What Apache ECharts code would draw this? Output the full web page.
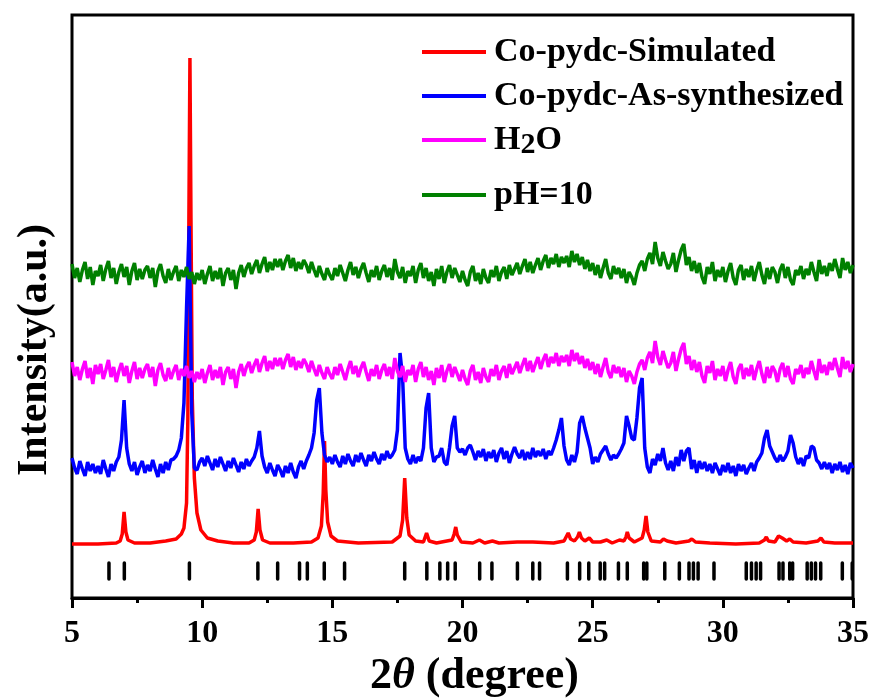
<!DOCTYPE html>
<html>
<head>
<meta charset="utf-8">
<script src="https://cdn.jsdelivr.net/npm/echarts@6/dist/echarts.min.js"></script>
<style>html,body{margin:0;padding:0;background:#fff}#chart{width:876px;height:698px}</style>
</head>
<body>
<div id="chart"></div>
<script>
// ---- data ----
const xTicks = [5, 10, 15, 20, 25, 30, 35];
const seriesNames = ['Co-pydc-Simulated', 'Co-pydc-As-synthesized', 'H2O', 'pH=10'];

// simulated pattern (angle, intensity)
const redAngles = [5.0,6.0,6.7,6.85,6.93,7.0,7.07,7.15,7.4,8.0,8.6,9.0,9.2,9.3,9.4,9.45,9.49,9.53,9.57,9.62,9.7,9.8,9.95,10.2,10.6,11.2,11.8,12.0,12.08,12.15,12.22,12.32,12.6,13.5,14.2,14.45,14.58,14.65,14.7,14.75,14.82,14.95,15.2,16.0,17.3,17.6,17.7,17.78,17.86,17.95,18.2,18.5,18.62,18.72,19.0,19.6,19.68,19.74,19.8,19.95,20.4,20.65,20.85,21.15,21.4,22.1,22.7,23.5,23.9,24.0,24.06,24.15,24.3,24.42,24.49,24.57,24.7,24.87,25.0,25.3,25.54,25.75,26.03,26.2,26.28,26.33,26.4,26.6,26.9,26.98,27.05,27.12,27.25,27.6,27.72,27.78,27.86,28.2,28.7,28.81,28.95,29.5,30.5,31.4,31.6,31.67,31.75,32.0,32.14,32.2,32.28,32.45,32.57,32.7,33.2,33.65,33.77,33.88,34.3,35.0];
const redIntensity = [54,54,55,57,64,86,66,58,55,55,57,59,64,70,95,180,380,540,380,200,120,85,68,60,57,55,55,58,66,89,68,58,55,55,56,60,72,105,157,108,76,62,57,55,56,62,78,120,80,63,57,56,65,57,55,58,64,71,63,56,55,58,55,57,55,56,56,55,57,62,65,59,57,61,66,60,57,60,56,56,58,55,58,57,61,66,60,56,60,68,82,66,57,56,59,61,57,55,57,59,56,55,54,55,58,61,57,56,62,64,60,57,59,56,55,57,60,56,55,55];

// measured patterns, 5.0 to 35.0 deg in 0.1 deg steps
const scanStart = 5.0, scanStep = 0.1;
const blueIntensity = [
140,130,124,137,129,122,136,127,134,125,
132,124,138,129,121,134,127,136,141,158,
198,150,134,127,136,123,131,137,125,133,
127,138,129,121,134,125,136,128,138,139,
142,148,160,195,290,372,185,130,128,136,
140,132,142,135,128,139,131,141,134,127,
137,130,140,133,126,136,129,139,132,137,
141,150,167,142,131,125,135,128,122,133,
128,121,132,125,135,126,120,131,137,129,
137,143,150,165,198,210,165,143,136,141,
134,143,136,131,142,134,144,137,132,143,
136,145,138,132,143,137,146,139,134,144,
138,147,140,143,148,168,245,220,150,139,
134,143,135,141,137,150,190,205,150,136,
141,142,150,136,133,150,172,182,150,146,
149,143,150,153,146,138,147,141,149,137,
146,140,148,136,145,150,139,147,135,144,
151,144,140,148,138,146,139,150,141,147,
142,149,139,147,143,150,158,168,180,152,
138,133,143,136,146,175,182,170,160,150,
134,141,136,144,148,152,144,138,143,140,
144,149,155,182,172,160,158,180,210,220,
150,131,125,139,133,144,137,150,135,128,
137,127,141,132,148,137,147,150,129,138,
125,137,129,136,127,134,125,135,129,123,
133,126,135,125,132,122,134,127,133,124,
130,135,127,136,140,145,160,168,152,146,
140,136,143,137,141,147,163,155,141,134,
140,132,142,140,152,150,138,135,129,136,
129,135,125,134,128,136,126,133,124,135,
130];
const magentaIntensity = [
236,222,231,218,229,237,220,230,214,233,
224,234,219,228,238,221,231,216,227,235,
222,232,215,227,236,219,230,220,229,234,
221,231,212,228,235,223,217,230,219,227,
233,218,229,222,232,220,227,216,226,219,
229,215,225,233,218,228,220,231,213,226,
231,219,229,210,226,234,222,231,236,225,
233,239,226,235,242,227,237,229,240,232,
240,229,238,244,231,241,228,237,230,239,
234,226,237,229,222,233,225,219,231,224,
219,231,223,234,226,218,229,237,224,232,
221,230,236,226,217,229,222,233,219,228,
234,222,231,219,240,227,221,232,216,228,
223,233,216,229,236,221,231,218,227,213,
230,220,233,216,227,234,221,231,224,217,
228,219,213,227,233,218,226,215,230,221,
216,229,222,233,218,227,232,220,234,224,
230,236,225,233,240,227,237,226,234,241,
229,238,244,231,241,235,245,232,242,236,
243,232,248,237,245,234,242,230,239,228,
236,224,234,221,231,240,226,220,233,225,
231,221,230,216,227,222,214,226,234,238,
228,240,246,235,257,241,233,247,238,230,
235,246,227,239,249,255,234,242,228,238,
226,236,222,215,232,225,237,218,229,222,
232,217,228,236,221,214,229,234,219,230,
222,233,218,229,237,224,215,231,220,232,
227,216,229,235,221,232,219,214,229,224,
233,220,230,224,237,227,218,239,225,233,
223,236,228,240,230,221,241,229,237,226,
234];
const greenIntensity = [
334,320,330,316,328,336,319,331,313,327,
322,333,317,329,337,320,330,314,326,334,
321,331,313,327,335,318,329,319,328,332,
320,330,311,327,334,322,315,329,318,326,
332,317,328,321,331,319,326,314,325,318,
328,314,324,332,317,327,319,330,312,325,
330,318,328,309,325,333,321,330,335,324,
332,338,325,334,341,326,336,328,339,331,
339,328,337,343,330,340,327,336,329,338,
333,325,336,328,321,332,324,318,330,323,
318,330,322,333,325,317,328,336,323,331,
320,329,335,325,316,328,321,332,318,327,
333,321,330,318,339,326,320,331,315,327,
322,332,315,328,335,320,330,317,326,312,
329,319,332,315,326,333,320,330,323,316,
327,318,312,326,332,317,325,314,329,320,
315,328,321,332,317,326,331,319,333,323,
329,335,324,332,339,326,336,325,333,340,
328,337,343,330,340,334,344,331,341,335,
342,331,347,336,344,333,341,329,338,327,
335,323,333,320,330,339,325,319,332,324,
330,320,329,315,326,321,313,325,333,337,
327,339,345,334,356,340,332,346,337,329,
334,345,326,338,348,354,333,341,327,337,
325,335,321,314,331,324,336,317,328,321,
331,316,327,335,320,313,328,333,318,329,
321,332,317,328,336,323,314,330,319,331,
326,315,328,334,320,331,318,313,328,323,
332,319,329,323,336,326,317,338,324,332,
322,335,327,339,329,320,340,328,336,325,
333];

// reference reflection positions (deg)
const reflectionAngles = [6.42,7.01,9.51,12.14,12.90,13.74,14.04,14.69,15.47,17.78,18.63,19.13,19.43,19.72,20.66,21.13,22.11,22.70,22.96,24.03,24.50,24.85,25.29,25.46,25.99,26.33,26.96,27.08,27.77,28.33,28.70,28.87,29.05,29.66,30.90,31.10,31.28,31.45,32.16,32.31,32.57,32.68,33.24,33.40,33.56,33.76,34.59,34.97];

// ---- chart ----
const FONT = '"Liberation Serif", "Times New Roman", serif';
const colors = ['#ff0000', '#0000ff', '#ff00ff', '#008000'];
const TICK_LO = 19, TICK_HI = 35;

function scanPairs(vals) {
  return vals.map((v, i) => [+(scanStart + i * scanStep).toFixed(2), v]);
}
const redPairs = redAngles.map((a, i) => [a, redIntensity[i]]);
const dataSets = [redPairs, scanPairs(blueIntensity), scanPairs(magentaIntensity), scanPairs(greenIntensity)];

const lineSeries = seriesNames.map((name, k) => ({
  name: name,
  type: 'line',
  data: dataSets[k],
  showSymbol: false,
  symbol: 'none',
  color: colors[k],
  lineStyle: { color: colors[k], width: 3.5 },
  animation: false,
  z: 3 + k
}));

const legendTops = [32, 76, 120, 175];
const legends = seriesNames.map((name, k) => ({
  data: [name],
  left: 422,
  top: legendTops[k],
  padding: 0,
  icon: 'rect',
  itemWidth: 64,
  itemHeight: 4,
  selectedMode: false,
  formatter: name === 'H2O' ? '{n|H}{s|2}{n|O}' : name,
  textStyle: {
    fontFamily: FONT, fontWeight: 'bold', fontSize: 34, color: '#000', lineHeight: 40,
    padding: [0, 0, 0, 3],
    rich: {
      n: { fontFamily: FONT, fontWeight: 'bold', fontSize: 34, lineHeight: 40, color: '#000' },
      s: { fontFamily: FONT, fontWeight: 'bold', fontSize: 30, lineHeight: 20, verticalAlign: 'bottom', color: '#000' }
    }
  }
}));

const chart = echarts.init(document.getElementById('chart'), null, { renderer: 'canvas' });
chart.setOption({
  animation: false,
  backgroundColor: '#fff',
  grid: { left: 72, right: 23, top: 15, bottom: 100, show: true, borderColor: '#000', borderWidth: 3, backgroundColor: 'transparent', containLabel: false, outerBoundsMode: 'none' },
  legend: legends,
  xAxis: {
    type: 'value', min: xTicks[0], max: xTicks[xTicks.length - 1], interval: 5,
    axisLine: { lineStyle: { color: '#000', width: 3 } },
    axisTick: { show: true, inside: false, length: 10, lineStyle: { color: '#000', width: 3 } },
    minorTick: { show: true, splitNumber: 2, length: 5, lineStyle: { color: '#000', width: 3 } },
    splitLine: { show: false },
    axisLabel: { margin: 20, fontFamily: FONT, fontWeight: 'bold', fontSize: 32, lineHeight: 32, color: '#000' },
    name: '{n|2}{i|θ}{n| (degree)}',
    nameLocation: 'middle',
    nameGap: 49,
    nameTextStyle: {
      fontFamily: FONT, fontWeight: 'bold', fontSize: 44, color: '#000', padding: [0, 0, 0, 24],
      rich: {
        n: { fontFamily: FONT, fontWeight: 'bold', fontSize: 44, lineHeight: 50, color: '#000' },
        i: { fontFamily: FONT, fontWeight: 'bold', fontStyle: 'italic', fontSize: 44, lineHeight: 50, color: '#000' }
      }
    }
  },
  yAxis: { type: 'value', min: 0, max: 583, show: false },
  graphic: [{
    type: 'text', x: 35, y: 350, rotation: Math.PI / 2,
    style: { text: 'Intensity(a.u.)', font: 'bold 42px ' + FONT, fill: '#000', textAlign: 'center', textVerticalAlign: 'middle' }
  }],
  series: lineSeries.concat([{
    type: 'custom',
    name: 'reflections',
    data: reflectionAngles.map(a => [a, TICK_LO, TICK_HI]),
    encode: { x: 0, y: [1, 2] },
    renderItem: function (params, api) {
      const p1 = api.coord([api.value(0), api.value(1)]);
      const p2 = api.coord([api.value(0), api.value(2)]);
      return { type: 'line', shape: { x1: p1[0], y1: p1[1], x2: p2[0], y2: p2[1] }, style: { stroke: '#000', lineWidth: 3.5, lineCap: 'round' } };
    },
    animation: false,
    z: 2
  }])
});
</script>
</body>
</html>
